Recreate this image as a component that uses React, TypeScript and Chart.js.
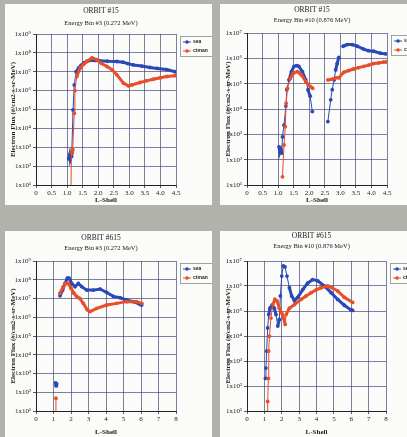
import React, { useEffect, useRef } from "react";
import { Chart, registerables } from "chart.js";

Chart.register(...registerables);

// ---- series names ----
const seriesNames = ["sea", "ctman"];

// ---- ORBIT #15, Energy Bin #3 ----
const o15b3SeaL = [1.05, 1.08, 1.1, 1.13, 1.15, 1.19, 1.23, 1.29, 1.37, 1.45, 1.53, 1.63, 1.74, 1.9, 2.06, 2.3, 2.6, 2.8, 2.95, 3.13, 3.4, 3.66, 3.9, 4.2, 4.47];
const o15b3SeaFlux = [2.5e2, 4.0e2, 2.2e2, 3.2e2, 5.0e2, 9.5e4, 2.0e6, 1.0e7, 1.6e7, 2.2e7, 2.9e7, 3.5e7, 4.0e7, 4.0e7, 3.8e7, 3.6e7, 3.5e7, 3.2e7, 2.7e7, 2.3e7, 2.0e7, 1.7e7, 1.5e7, 1.3e7, 1.0e7];
const o15b3CtmanL = [1.12, 1.14, 1.16, 1.18, 1.23, 1.25, 1.31, 1.42, 1.53, 1.63, 1.8, 1.96, 2.1, 2.28, 2.44, 2.6, 2.81, 2.97, 3.08, 3.34, 3.55, 3.77, 4.0, 4.2, 4.47];
const o15b3CtmanFlux = [3.2, 5.0e2, 6.3e2, 7.9e2, 6.3e4, 1.0e6, 5.6e6, 1.6e7, 2.5e7, 3.5e7, 5.4e7, 4.4e7, 2.8e7, 1.9e7, 1.3e7, 6.9e6, 2.5e6, 1.8e6, 2.0e6, 2.7e6, 3.3e6, 4.0e6, 4.8e6, 5.6e6, 6.2e6];

// ---- ORBIT #15, Energy Bin #10 ----
const o15b10SeaL = [1.03, 1.06, 1.09, 1.12, 1.14, 1.19, 1.25, 1.28, 1.35, 1.43, 1.51, 1.6, 1.67, 1.78, 1.89, 1.96, 2.03, 2.1, null, 2.6, 2.69, 2.74, 2.8, 2.85, 2.9, 2.95, null, 3.09, 3.22, 3.38, 3.54, 3.75, 3.9, 4.07, 4.29, 4.45];
const o15b10SeaFlux = [3.2e2, 2.0e2, 2.5e2, 1.8e2, 7.9e2, 2.3e3, 1.3e4, 5.8e4, 1.4e5, 3.0e5, 4.8e5, 5.2e5, 4.8e5, 3.0e5, 1.4e5, 5.8e4, 3.2e4, 7.9e3, null, 3.2e3, 2.3e4, 5.8e4, 1.4e5, 3.5e5, 6.3e5, 1.1e6, null, 3.0e6, 3.5e6, 3.5e6, 3.0e6, 2.3e6, 2.0e6, 1.9e6, 1.6e6, 1.5e6];
const o15b10CtmanL = [1.14, 1.19, 1.23, 1.26, 1.3, 1.39, 1.49, 1.62, 1.75, 1.89, 2.03, 2.11, null, 2.6, 2.74, 2.85, 2.95, 3.11, 3.27, 3.43, 3.59, 3.75, 3.91, 4.07, 4.23, 4.39, 4.48];
const o15b10CtmanFlux = [2.1e1, 3.8e2, 2.0e3, 1.7e4, 6.6e4, 1.6e5, 2.6e5, 3.0e5, 2.2e5, 1.2e5, 7.8e4, 6.6e4, null, 1.4e5, 1.5e5, 1.7e5, 1.7e5, 2.8e5, 3.3e5, 3.8e5, 4.3e5, 4.8e5, 5.4e5, 6.2e5, 6.6e5, 7.1e5, 7.2e5];

// ---- ORBIT #615, Energy Bin #3 ----
const o615b3SeaL = [1.12, 1.15, 1.18, null, 1.37, 1.52, 1.66, 1.79, 1.89, 2.04, 2.23, 2.42, 2.61, 2.9, 3.28, 3.66, 4.04, 4.42, 4.8, 5.18, 5.56, 5.94, 6.04];
const o615b3SeaFlux = [3.2e2, 2.2e2, 2.8e2, null, 1.4e7, 2.8e7, 6.3e7, 1.2e8, 1.2e8, 6.3e7, 4.3e7, 6.3e7, 4.3e7, 2.8e7, 2.8e7, 3.2e7, 2.1e7, 1.3e7, 1.1e7, 8.3e6, 6.8e6, 4.9e6, 4.5e6];
const o615b3CtmanL = [1.14, 1.14, null, 1.37, 1.56, 1.7, 1.85, 2.0, 2.17, 2.32, 2.51, 2.7, 2.93, 3.09, 3.47, 4.04, 4.61, 5.18, 5.75, 6.04];
const o615b3CtmanFlux = [3.2, 4.8e1, null, 1.9e7, 4.3e7, 6.3e7, 6.3e7, 3.5e7, 1.9e7, 1.3e7, 1.0e7, 5.5e6, 2.5e6, 2.0e6, 3.0e6, 4.5e6, 5.5e6, 6.8e6, 6.8e6, 5.5e6];

// ---- ORBIT #615, Energy Bin #10 ----
const o615b10SeaL = [1.06, 1.09, 1.13, 1.19, 1.25, 1.32, 1.44, 1.57, 1.67, 1.77, 1.86, 1.92, 2.0, 2.09, 2.19, 2.3, 2.44, 2.57, 2.73, 2.92, 3.21, 3.49, 3.78, 4.07, 4.45, 4.84, 5.22, 5.6, 5.99, 6.08];
const o615b10SeaFlux = [2.0e2, 5.2e2, 2.5e3, 2.1e4, 7.2e4, 1.3e5, 1.7e5, 1.3e5, 7.2e4, 2.5e4, 4.6e4, 4.0e5, 2.5e6, 6.3e6, 5.8e6, 2.5e6, 8.5e5, 4.0e5, 2.6e5, 3.5e5, 7.2e5, 1.3e6, 1.8e6, 1.6e6, 1.0e6, 5.4e5, 2.9e5, 1.7e5, 1.1e5, 1.05e5];
const o615b10CtmanL = [1.17, 1.19, 1.23, 1.25, 1.29, 1.38, 1.48, 1.61, 1.73, 1.86, 2.0, 2.11, 2.2, 2.25, 2.44, 2.73, 3.11, 3.4, 3.69, 4.0, 4.26, 4.65, 4.9, 5.22, 5.6, 6.08];
const o615b10CtmanFlux = [3.2, 2.4e1, 2.0e2, 2.5e3, 9.8e3, 5.2e4, 1.8e5, 2.9e5, 2.5e5, 1.3e5, 8.3e4, 5.2e4, 2.9e4, 7.2e4, 1.3e5, 1.8e5, 2.9e5, 4.0e5, 5.4e5, 7.1e5, 8.5e5, 1.0e6, 8.5e5, 6.3e5, 3.5e5, 2.2e5];

// ---- axis tick values ----
const yDecades = [1e1, 1e2, 1e3, 1e4, 1e5, 1e6, 1e7, 1e8, 1e9];
const superscripts = ["⁰", "¹", "²", "³", "⁴", "⁵", "⁶", "⁷", "⁸", "⁹"];

const BLUE = "rgb(42,72,182)";
const RED = "rgb(232,78,42)";
const GRID = "rgba(50,55,105,0.8)";
const SERIF = "'Liberation Serif', 'Times New Roman', serif";

type Panel = {
  left: number; top: number; w: number; h: number;
  area: { l: number; r: number; t: number; b: number };
  title: string; subtitle: string; titleY: number; subY: number;
  xMax: number; xStep: number; yMax: number;
  seaL: (number | null)[]; seaF: (number | null)[];
  ctL: (number | null)[]; ctF: (number | null)[];
};

const panels: Panel[] = [
  { left: 5, top: 4, w: 207, h: 201, area: { l: 31, r: 171, t: 30, b: 181 }, title: "ORBIT #15", subtitle: "Energy Bin #3 (0.272 MeV)", titleY: 7, subY: 19, xMax: 4.5, xStep: 0.5, yMax: 1e9, seaL: o15b3SeaL, seaF: o15b3SeaFlux, ctL: o15b3CtmanL, ctF: o15b3CtmanFlux },
  { left: 220, top: 4, w: 187, h: 201, area: { l: 27, r: 167, t: 29, b: 181 }, title: "ORBIT #15", subtitle: "Energy Bin #10 (0.876 MeV)", titleY: 6, subY: 16, xMax: 4.5, xStep: 0.5, yMax: 1e7, seaL: o15b10SeaL, seaF: o15b10SeaFlux, ctL: o15b10CtmanL, ctF: o15b10CtmanFlux },
  { left: 5, top: 231, w: 207, h: 206, area: { l: 31, r: 171, t: 30, b: 180 }, title: "ORBIT #615", subtitle: "Energy Bin #3 (0.272 MeV)", titleY: 7, subY: 17, xMax: 8, xStep: 1, yMax: 1e9, seaL: o615b3SeaL, seaF: o615b3SeaFlux, ctL: o615b3CtmanL, ctF: o615b3CtmanFlux },
  { left: 220, top: 231, w: 187, h: 206, area: { l: 27, r: 166, t: 30, b: 180 }, title: "ORBIT #615", subtitle: "Energy Bin #10 (0.876 MeV)", titleY: 5, subY: 15, xMax: 8, xStep: 1, yMax: 1e7, seaL: o615b10SeaL, seaF: o615b10SeaFlux, ctL: o615b10CtmanL, ctF: o615b10CtmanFlux },
];

function toPoints(xs: (number | null)[], ys: (number | null)[]) {
  return xs.map((x, i) => ({ x, y: ys[i] }));
}

const segWidth = (ctx: any) => {
  const dx = Math.abs(ctx.p1.x - ctx.p0.x);
  const dy = Math.abs(ctx.p1.y - ctx.p0.y);
  return dy > 2 * dx + 4 ? 1 : 3;
};

function PanelChart({ p }: { p: Panel }) {
  const ref = useRef<HTMLCanvasElement | null>(null);
  useEffect(() => {
    if (!ref.current) return;
    const decor = {
      id: "decor",
      afterDraw(chart: any) {
        const { ctx, chartArea } = chart;
        ctx.save();
        ctx.fillStyle = "#1a1a1a";
        ctx.textAlign = "center";
        ctx.textBaseline = "middle";
        const cx = (chartArea.left + chartArea.right) / 2 - 5;
        ctx.font = `7.5px ${SERIF}`;
        ctx.fillText(p.title, cx, p.titleY);
        ctx.font = `6.5px ${SERIF}`;
        ctx.fillText(p.subtitle, cx, p.subY);
        // legend
        const lx = chartArea.right + 4;
        const ly = chartArea.top + 2;
        ctx.strokeStyle = "#8c8c8c";
        ctx.lineWidth = 0.8;
        ctx.strokeRect(lx + 0.5, ly + 0.5, 33, 20);
        chart.data.datasets.forEach((ds: any, i: number) => {
          const y = ly + 6 + i * 9;
          ctx.strokeStyle = ds.borderColor;
          ctx.lineWidth = 1;
          ctx.beginPath();
          ctx.moveTo(lx + 3, y);
          ctx.lineTo(lx + 11, y);
          ctx.stroke();
          ctx.fillStyle = ds.borderColor;
          ctx.beginPath();
          ctx.arc(lx + 7, y, 1.8, 0, Math.PI * 2);
          ctx.fill();
          ctx.fillStyle = "#222";
          ctx.textAlign = "left";
          ctx.font = `bold 5px 'Liberation Sans', sans-serif`;
          ctx.fillText(ds.label, lx + 13, y);
        });
        ctx.restore();
      },
    };
    const tickFont = { family: SERIF, size: 7 };
    const chart = new Chart(ref.current, {
      type: "scatter",
      data: {
        datasets: [
          { label: seriesNames[0], data: toPoints(p.seaL, p.seaF) as any, showLine: true, borderColor: BLUE, backgroundColor: BLUE, pointRadius: 1.9, pointBorderWidth: 0, borderWidth: 3, segment: { borderWidth: segWidth }, order: 1 },
          { label: seriesNames[1], data: toPoints(p.ctL, p.ctF) as any, showLine: true, borderColor: RED, backgroundColor: RED, pointRadius: 1.9, pointBorderWidth: 0, borderWidth: 3, segment: { borderWidth: segWidth }, order: 0 },
        ],
      },
      options: {
        animation: false,
        responsive: false,
        devicePixelRatio: 1,
        events: [],
        layout: { padding: { top: p.area.t, right: p.w - p.area.r, left: 0, bottom: 0 } },
        plugins: { legend: { display: false }, tooltip: { enabled: false }, title: { display: false } },
        scales: {
          x: {
            type: "linear",
            min: 0,
            max: p.xMax,
            ticks: { stepSize: p.xStep, font: tickFont, color: "#222", padding: 1, maxRotation: 0, autoSkip: false },
            grid: { color: GRID, lineWidth: 0.8, tickLength: 3, tickColor: "#333" },
            border: { color: "#222", width: 1 },
            title: { display: true, text: "L-Shell", font: { family: SERIF, size: 7, weight: "bold", lineHeight: 1 }, color: "#222", padding: { top: 0, bottom: 1 } },
            afterFit: (s: any) => { s.height = p.h - p.area.b; },
          },
          y: {
            type: "logarithmic",
            min: 10,
            max: p.yMax,
            afterBuildTicks: (s: any) => { s.ticks = yDecades.filter((v) => v <= p.yMax).map((v) => ({ value: v })); },
            ticks: {
              font: tickFont,
              color: "#222",
              padding: 2,
              autoSkip: false,
              callback: (v: any) => "1x10" + superscripts[Math.round(Math.log10(Number(v)))],
            },
            grid: { color: GRID, lineWidth: 0.8, tickLength: 3, tickColor: "#333" },
            border: { color: "#222", width: 1 },
            title: { display: true, text: "Electron Flux (#/cm2-s-sr-MeV)", font: { family: SERIF, size: 7, weight: "bold", lineHeight: 1 }, color: "#222", padding: { top: 5, bottom: 0 } },
            afterFit: (s: any) => { s.width = p.area.l; },
          },
        },
      },
      plugins: [decor],
    } as any);
    return () => chart.destroy();
  }, [p]);
  return (
    <div style={{ position: "absolute", left: p.left, top: p.top, width: p.w, height: p.h, background: "#fbfbfa", overflow: "hidden" }}>
      <canvas ref={ref} width={p.w} height={p.h} style={{ display: "block", width: p.w, height: p.h }} />
    </div>
  );
}

export default function App() {
  return (
    <div style={{ position: "fixed", left: 0, top: 0, width: 407, height: 437, background: "#b2b2ac", overflow: "hidden" }}>
      {panels.map((p, i) => (
        <PanelChart key={i} p={p} />
      ))}
    </div>
  );
}
